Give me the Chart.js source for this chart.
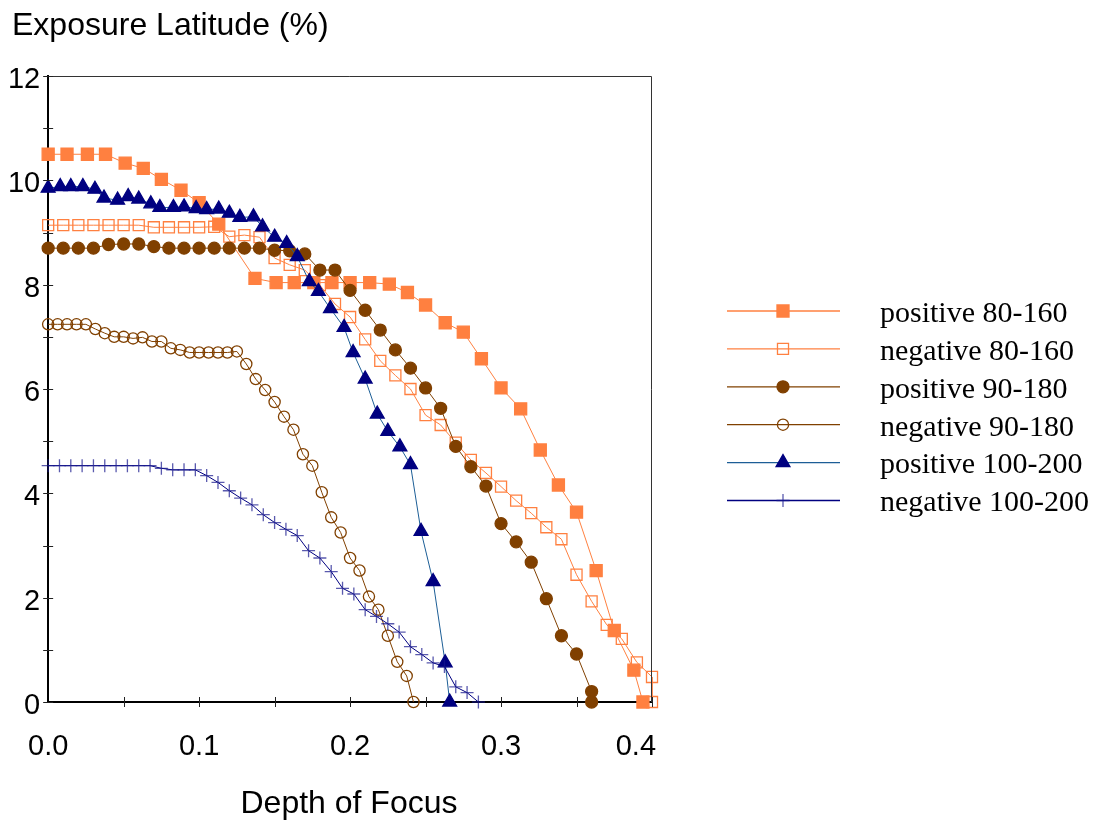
<!DOCTYPE html>
<html>
<head>
<meta charset="utf-8">
<script src="https://cdn.jsdelivr.net/npm/chart.js@4.4.0/dist/chart.umd.min.js"></script>
<style>
  body { margin: 0; background: #fff; }
  #wrap { width: 1099px; height: 821px; }
</style>
</head>
<body>
<div id="wrap"><canvas id="myChart" width="1099" height="821"></canvas></div>
<script>
// data
const pos80X = [0, 0.0125, 0.026, 0.038, 0.051, 0.063, 0.075, 0.088, 0.1, 0.113, 0.137, 0.151, 0.163, 0.176, 0.188, 0.2, 0.213, 0.226, 0.238, 0.25, 0.263, 0.275, 0.287, 0.3, 0.313, 0.326, 0.338, 0.35, 0.363, 0.375, 0.388, 0.394];
const pos80Y = [10.5, 10.5, 10.5, 10.5, 10.33, 10.23, 10.02, 9.81, 9.57, 9.16, 8.12, 8.04, 8.04, 8.04, 8.04, 8.04, 8.04, 8.01, 7.85, 7.61, 7.27, 7.09, 6.58, 6.02, 5.62, 4.83, 4.16, 3.64, 2.52, 1.37, 0.61, 0];

const neg80X = [0, 0.01, 0.02, 0.03, 0.04, 0.05, 0.06, 0.07, 0.08, 0.09, 0.1, 0.11, 0.12, 0.13, 0.14, 0.15, 0.16, 0.17, 0.18, 0.19, 0.2, 0.21, 0.22, 0.23, 0.24, 0.25, 0.26, 0.27, 0.28, 0.29, 0.3, 0.31, 0.32, 0.33, 0.34, 0.35, 0.36, 0.37, 0.38, 0.39, 0.4, 0.4];
const neg80Y = [9.14, 9.14, 9.14, 9.14, 9.14, 9.14, 9.14, 9.1, 9.1, 9.1, 9.1, 9.11, 8.92, 8.95, 8.91, 8.51, 8.38, 8.28, 7.99, 7.63, 7.38, 6.95, 6.54, 6.26, 6.0, 5.5, 5.31, 4.97, 4.64, 4.39, 4.13, 3.86, 3.62, 3.35, 3.12, 2.44, 1.93, 1.48, 1.21, 0.76, 0.48, 0];

const pos90X = [0, 0.01, 0.02, 0.03, 0.04, 0.05, 0.06, 0.07, 0.08, 0.09, 0.1, 0.11, 0.12, 0.13, 0.14, 0.15, 0.16, 0.17, 0.18, 0.19, 0.2, 0.21, 0.22, 0.23, 0.24, 0.25, 0.26, 0.27, 0.28, 0.29, 0.3, 0.31, 0.32, 0.33, 0.34, 0.35, 0.36, 0.36];
const pos90Y = [8.7, 8.7, 8.7, 8.7, 8.77, 8.78, 8.78, 8.73, 8.7, 8.7, 8.7, 8.7, 8.7, 8.7, 8.7, 8.66, 8.65, 8.59, 8.28, 8.28, 7.89, 7.51, 7.13, 6.75, 6.4, 6.02, 5.63, 4.9, 4.51, 4.14, 3.42, 3.07, 2.68, 1.98, 1.27, 0.92, 0.2, 0];

const neg90X = [0, 0.00625, 0.0125, 0.01875, 0.025, 0.03125, 0.0375, 0.04375, 0.05, 0.05625, 0.0625, 0.06875, 0.075, 0.08125, 0.0875, 0.09375, 0.1, 0.10625, 0.1125, 0.11875, 0.125, 0.13125, 0.1375, 0.14375, 0.15, 0.15625, 0.1625, 0.16875, 0.175, 0.18125, 0.1875, 0.19375, 0.2, 0.20625, 0.2125, 0.21875, 0.225, 0.23125, 0.2375, 0.242];
const neg90Y = [7.24, 7.24, 7.24, 7.24, 7.24, 7.15, 7.07, 7.0, 7.0, 6.97, 6.99, 6.91, 6.91, 6.78, 6.75, 6.7, 6.7, 6.7, 6.7, 6.7, 6.72, 6.48, 6.19, 5.98, 5.75, 5.47, 5.22, 4.75, 4.53, 4.02, 3.54, 3.25, 2.76, 2.52, 2.02, 1.77, 1.27, 0.77, 0.5, 0];

const pos100X = [0, 0.008, 0.015, 0.023, 0.031, 0.037, 0.046, 0.053, 0.06, 0.068, 0.074, 0.083, 0.09, 0.098, 0.105, 0.113, 0.12, 0.127, 0.136, 0.142, 0.15, 0.158, 0.165, 0.173, 0.179, 0.187, 0.196, 0.202, 0.21, 0.218, 0.225, 0.233, 0.24, 0.247, 0.255, 0.263, 0.266];
const pos100Y = [9.85, 9.88, 9.88, 9.88, 9.83, 9.66, 9.62, 9.69, 9.64, 9.55, 9.48, 9.48, 9.49, 9.46, 9.44, 9.45, 9.37, 9.29, 9.3, 9.11, 8.91, 8.79, 8.54, 8.06, 7.87, 7.54, 7.18, 6.7, 6.19, 5.52, 5.19, 4.89, 4.55, 3.27, 2.31, 0.75, 0];

const neg100X = [0, 0.0075, 0.015, 0.0225, 0.03, 0.0375, 0.045, 0.0525, 0.06, 0.0675, 0.075, 0.0825, 0.09, 0.0975, 0.105, 0.1125, 0.12, 0.1275, 0.135, 0.1425, 0.15, 0.1575, 0.165, 0.1725, 0.18, 0.1875, 0.195, 0.2025, 0.21, 0.2175, 0.225, 0.2325, 0.24, 0.2475, 0.255, 0.2625, 0.27, 0.2775, 0.285];
const neg100Y = [4.53, 4.53, 4.53, 4.53, 4.53, 4.53, 4.53, 4.53, 4.53, 4.53, 4.48, 4.45, 4.45, 4.45, 4.34, 4.21, 4.05, 3.91, 3.78, 3.59, 3.44, 3.31, 3.19, 2.9, 2.76, 2.5, 2.18, 2.07, 1.77, 1.64, 1.5, 1.34, 1.06, 0.91, 0.75, 0.68, 0.29, 0.18, 0];

const seriesNames = ["positive 80-160", "negative 80-160", "positive 90-180", "negative 90-180", "positive 100-200", "negative 100-200"];
const xTicks = [0, 0.1, 0.2, 0.3, 0.4];
const yTicks = [0, 2, 4, 6, 8, 10, 12];

function pts(xs, ys) {
  return xs.map((x, i) => ({ x: x, y: ys[i] }));
}

function series(i, xs, ys, line, mark, fill, style, r) {
  return {
    label: seriesNames[i],
    data: pts(xs, ys),
    borderColor: line,
    borderWidth: 1,
    backgroundColor: fill,
    pointBackgroundColor: fill,
    pointBorderColor: mark,
    pointBorderWidth: 1.3,
    pointStyle: style,
    pointRadius: r,
    tension: 0,
    clip: false,
    order: 6 - i,
  };
}

const coral = "#FF8040";
const brown = "#804000";
const navy = "#000080";
const clear = "rgba(0,0,0,0)";

const datasets = [
  series(0, pos80X, pos80Y, coral, coral, coral, "rect", 8.5),
  series(1, neg80X, neg80Y, coral, coral, clear, "rect", 7.8),
  series(2, pos90X, pos90Y, brown, brown, brown, "circle", 6),
  series(3, neg90X, neg90Y, brown, brown, clear, "circle", 5.6),
  series(4, pos100X, pos100Y, "#1C5E96", navy, navy, "triangle", 8),
  series(5, neg100X, neg100Y, navy, "rgba(20,20,140,0.7)", clear, "cross", 6.5),
];

// axis titles, tick marks, frame and the legend on the right
const extras = {
  id: "extras",
  afterDraw(chart) {
    const ctx = chart.ctx;
    const a = chart.chartArea;
    const xs = chart.scales.x;
    const ys = chart.scales.y;
    ctx.save();

    ctx.strokeStyle = "#333";
    ctx.lineWidth = 1;
    ctx.beginPath();
    ctx.moveTo(a.left, a.top + 0.5);
    ctx.lineTo(a.right - 0.5, a.top + 0.5);
    ctx.lineTo(a.right - 0.5, a.bottom);
    ctx.stroke();

    ctx.strokeStyle = "#222";
    ctx.beginPath();
    for (let v = 0; v <= 12; v++) {
      const y = Math.round(ys.getPixelForValue(v)) + 0.5;
      ctx.moveTo(a.left - 5, y);
      ctx.lineTo(a.left + 5, y);
    }
    for (let k = 1; k <= 8; k++) {
      const x = Math.round(xs.getPixelForValue(k * 0.05)) + 0.5;
      ctx.moveTo(x, a.bottom - 5);
      ctx.lineTo(x, a.bottom + 5);
    }
    ctx.stroke();

    ctx.fillStyle = "#000";
    ctx.font = "32px 'Liberation Sans', Arial, sans-serif";
    ctx.textBaseline = "middle";
    ctx.textAlign = "left";
    ctx.fillText("Exposure Latitude (%)", 12, 26);
    ctx.textAlign = "center";
    ctx.fillText("Depth of Focus", 349, 804);

    // legend
    ctx.font = "30px 'Liberation Serif', 'Times New Roman', serif";
    ctx.textAlign = "left";
    chart.data.datasets.forEach((ds, i) => {
      const y = 311 + i * 37.9;
      ctx.strokeStyle = ds.borderColor;
      ctx.lineWidth = 1.3;
      ctx.beginPath();
      ctx.moveTo(727, y);
      ctx.lineTo(840, y);
      ctx.stroke();
      ctx.fillStyle = ds.pointBackgroundColor;
      ctx.strokeStyle = ds.pointBorderColor;
      ctx.lineWidth = ds.pointBorderWidth;
      Chart.helpers.drawPoint(ctx, {
        pointStyle: ds.pointStyle,
        radius: ds.pointRadius,
        rotation: 0,
        borderWidth: ds.pointBorderWidth,
      }, 783, y);
      ctx.fillStyle = "#000";
      ctx.fillText(ds.label, 880, y + 3);
    });
    ctx.restore();
  },
};

const config = {
  type: "line",
  data: { datasets: datasets },
  options: {
    responsive: false,
    animation: false,
    events: [],
    devicePixelRatio: 1,
    layout: { padding: { left: 0, top: 76, right: 447, bottom: 0 } },
    plugins: { legend: { display: false }, tooltip: { enabled: false } },
    scales: {
      x: {
        type: "linear",
        min: 0,
        max: 0.4,
        afterFit: (s) => { s.height = 119; },
        afterBuildTicks: (s) => { s.ticks = xTicks.map((v) => ({ value: v })); },
        grid: { display: false, drawTicks: false },
        border: { display: true, color: "#000", width: 2 },
        ticks: {
          padding: 28,
          color: "#000",
          font: { family: "'Liberation Sans', Arial, sans-serif", size: 29 },
          // last label sits inside the frame, as in the original
          callback: (v) => (v >= 0.4 ? "0.4    " : v.toFixed(1)),
        },
      },
      y: {
        type: "linear",
        min: 0,
        max: 12,
        afterFit: (s) => { s.width = 48; },
        afterBuildTicks: (s) => { s.ticks = yTicks.map((v) => ({ value: v })); },
        grid: { display: false, drawTicks: false },
        border: { display: true, color: "#000", width: 2 },
        ticks: {
          padding: 8,
          labelOffset: 4,
          color: "#000",
          font: { family: "'Liberation Sans', Arial, sans-serif", size: 29 },
        },
      },
    },
  },
  plugins: [extras],
};

const ctx = document.getElementById("myChart").getContext("2d");
new Chart(ctx, config);
</script>
</body>
</html>
